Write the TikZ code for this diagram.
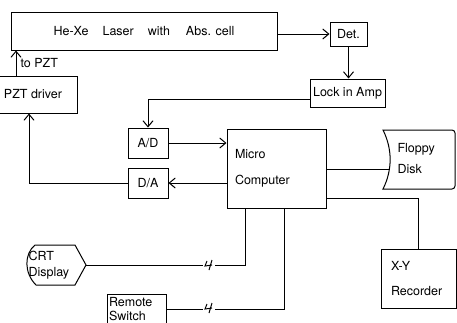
\documentclass[tikz,border=0pt]{standalone}
\usepackage{fontspec}
\setmainfont{TeX Gyre Heros}
\usetikzlibrary{arrows.meta}
\tikzset{
  blk/.style={draw, inner sep=2pt},
  txt/.style={align=left, inner ysep=0pt},
  pics/linkbreak/.style={code={
    \fill[white] (-6,-2) rectangle (6,2);
    \draw (-2,-4) -- (-4,1) -- (3,0) (3,-5) -- (0,5);}},
}
\begin{document}
\begin{tikzpicture}[x=1pt, y=-1pt, line width=1pt,
    >={Straight Barb[length=6pt,width=10pt]}, font=\fontsize{12.5}{15}\selectfont]
  \useasboundingbox (0,0) rectangle (457,322);
  % blocks
  \node[blk, minimum width=266, minimum height=38] (laser) at (144,31)
    {He-Xe\hspace{14pt}Laser\hspace{14pt}with\hspace{16pt}Abs. cell};
  \node[blk, minimum width=37, minimum height=24] (det) at (348.5,34) {Det.};
  \node[blk, minimum width=75, minimum height=28] (lock) at (347.5,93) {Lock in Amp};
  \node[blk, minimum width=88, minimum height=37] (pztd) at (33,94.5) {PZT driver};
  \node[blk, minimum width=40, minimum height=30] (ad) at (148,143) {A/D};
  \node[blk, minimum width=40, minimum height=30] (da) at (148,183) {D/A};
  \node[blk, txt, text width=83, inner xsep=8pt, minimum height=79] (micro) at (276.5,168.5)
    {Micro\\[11pt]Computer};
  \node[blk, txt, text width=55, inner xsep=10pt, minimum height=59] (recorder) at (418.5,278.5)
    {X-Y\\[10pt]Recorder};
  \node[blk, txt, text width=56, inner xsep=1.5pt, inner ysep=3pt, anchor=north west] (remote)
    at (107,294) {Remote\\[-1pt]Switch\\[-8pt]};
  % floppy disk and crt display
  \draw (383,130) [rounded corners=3pt]-- (455,130) -- (455,189) [sharp corners]-- (383,189)
    .. controls (392.5,170) and (392.5,149) .. cycle;
  \node[txt, anchor=west, inner xsep=0pt] (floppy) at (397,158.5) {Floppy\\[6pt]Disk};
  \coordinate (fdl) at (389.5,169);
  \draw (35,245) -- (75,245) -- (86,265) -- (75,285) -- (36,285)
    .. controls (24,273) and (24,254) .. cycle;
  \node[txt, anchor=west, inner xsep=0pt] (crt) at (28,265) {CRT\\[1pt]Display};
  \coordinate (crttip) at (86,265);
  % connections
  \draw[->] (laser.east |- det) -- (det);
  \draw[->] (det.south) -- (det.south |- lock.north);
  \draw[->] ([yshift=-6pt]lock.west) -| (ad.north);
  \draw[->] (ad.east) -- (ad.east -| micro.west);
  \draw[->] (da.east -| micro.west) -- (da.east);
  \draw[->] (da.west) -| ([xshift=-4pt]pztd.south);
  \draw[->] ([xshift=-17pt]pztd.north) -- ([xshift=-17pt]pztd.north |- laser.south)
    node[midway, right, inner sep=4pt] {to PZT};
  \draw (micro.east |- fdl) -- (fdl);
  \draw ([yshift=10pt]micro.south east) -| (recorder.north);
  \draw ([xshift=19pt]micro.south west) |- (crttip);
  \draw ([xshift=58pt]micro.south west) |- (remote.west -| remote.east |- 0,308);
  \pic at (209,265) {linkbreak};
  \pic at (209,308) {linkbreak};
\end{tikzpicture}
\end{document}
